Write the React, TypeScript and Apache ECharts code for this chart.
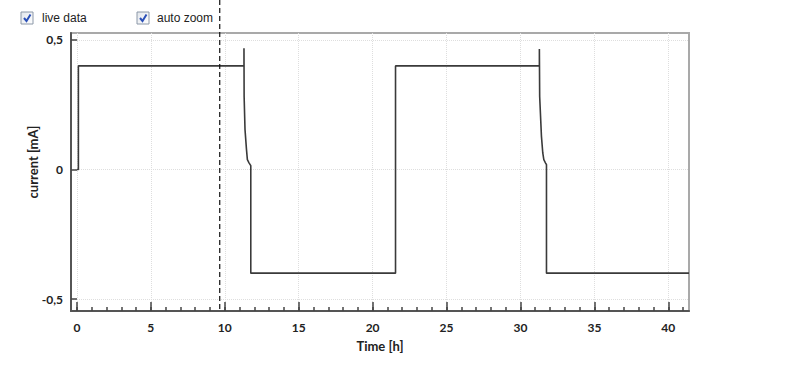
import React, { useEffect, useRef } from "react";
import * as echarts from "echarts";

// Time [h]
const timeH = [
  0, 0.1, 0.1, 11.3, 11.3, 11.31, 11.37, 11.47, 11.53, 11.64, 11.76, 11.76,
  21.55, 21.55, 31.28, 31.28, 31.3, 31.42, 31.51, 31.58, 31.69, 31.76, 31.76, 41.4,
];
// current [mA]
const currentMA = [
  0, 0, 0.4, 0.4, 0.468, 0.282, 0.154, 0.077, 0.038, 0.026, 0.015, -0.4,
  -0.4, 0.4, 0.4, 0.465, 0.282, 0.128, 0.064, 0.038, 0.026, 0.019, -0.4, -0.4,
];

const xMajorTicks = [0, 5, 10, 15, 20, 25, 30, 35, 40];
const xMinorTicks = [
  0, 1, 2, 3, 4, 5, 6, 7, 8, 9, 10, 11, 12, 13, 14, 15, 16, 17, 18, 19, 20,
  21, 22, 23, 24, 25, 26, 27, 28, 29, 30, 31, 32, 33, 34, 35, 36, 37, 38, 39, 40, 41,
];
const yTicks = [-0.5, 0, 0.5];
const cursorTime = 9.66;
const checkboxLabels = ["live data", "auto zoom"];

export default function App() {
  const ref = useRef<HTMLDivElement>(null);

  useEffect(() => {
    const chart = echarts.init(ref.current!, null, { renderer: "svg" });
    const font = "Lato";
    const data = timeH.map((t, i) => [t, currentMA[i]]);
    const xMin = -0.4;
    const xMax = 41.4;

    chart.setOption({
      animation: false,
      backgroundColor: "#ffffff",
      grid: {
        left: 71,
        right: 115,
        top: 33,
        bottom: 61,
        show: true,
        borderColor: "#a9a9a9",
        borderWidth: 2,
        backgroundColor: "transparent",
      },
      xAxis: [
        {
          type: "value",
          position: "bottom",
          min: xMin,
          max: xMax,
          name: "Time [h]",
          nameLocation: "middle",
          nameGap: 28,
          nameMoveOverlap: false,
          nameTextStyle: { fontFamily: font, fontWeight: "bold", fontSize: 13, color: "#222" },
          axisLine: { show: true, onZero: false, lineStyle: { color: "#555", width: 2 } },
          axisTick: { show: true, inside: true, length: 9, customValues: xMajorTicks, lineStyle: { color: "#444", width: 1.5 } },
          axisLabel: {
            customValues: xMajorTicks,
            fontFamily: font,
            fontWeight: "bold",
            fontSize: 12,
            color: "#222",
            margin: 10,
          },
          splitLine: { show: true, lineStyle: { color: "#dedede", type: "dotted", width: 1 } },
        },
        {
          type: "value",
          position: "bottom",
          min: xMin,
          max: xMax,
          axisLine: { show: false, onZero: false },
          axisTick: { show: true, inside: true, length: 4, customValues: xMinorTicks, lineStyle: { color: "#444", width: 1.5 } },
          axisLabel: { show: false },
          splitLine: { show: false },
        },
      ],
      yAxis: {
        type: "value",
        min: -0.546,
        max: 0.527,
        name: "current [mA]",
        nameLocation: "middle",
        nameRotate: 90,
        nameGap: 32,
        nameMoveOverlap: false,
        nameTextStyle: {
          fontFamily: font,
          fontWeight: "bold",
          fontSize: 13,
          color: "#222",
          padding: [0, 0, 0, 20],
        },
        axisLine: { show: true, onZero: false, lineStyle: { color: "#555", width: 2 } },
        axisTick: { show: true, inside: true, length: 6, customValues: yTicks, lineStyle: { color: "#444", width: 1.5 } },
        axisLabel: {
          customValues: yTicks,
          fontFamily: font,
          fontWeight: "bold",
          fontSize: 12,
          color: "#222",
          margin: 8,
          formatter: (v: number) => String(v).replace(".", ","),
        },
        splitLine: { show: true, lineStyle: { color: "#dedede", type: "dotted", width: 1 } },
      },
      series: [
        {
          type: "line",
          xAxisIndex: 0,
          data,
          showSymbol: false,
          symbol: "none",
          lineStyle: { color: "#3a3a3a", width: 1.6 },
        },
      ],
    });

    const cx = chart.convertToPixel({ xAxisIndex: 0 }, cursorTime) as number;
    const boxX = [21, 137];
    const textX = [42, 157];
    const graphics: any[] = [
      {
        type: "line",
        shape: { x1: cx, y1: 0, x2: cx, y2: 311 },
        style: { stroke: "#111", lineWidth: 1.2, lineDash: [5, 3] },
        z: 100,
      },
    ];
    checkboxLabels.forEach((label, i) => {
      const x0 = boxX[i];
      graphics.push(
        {
          type: "rect",
          shape: { x: x0, y: 12, width: 12, height: 12 },
          style: {
            fill: new echarts.graphic.LinearGradient(0, 0, 1, 1, [
              { offset: 0, color: "#e2e6ec" },
              { offset: 1, color: "#ffffff" },
            ]),
            stroke: "#8c98a8",
            lineWidth: 1,
          },
        },
        {
          type: "polyline",
          shape: { points: [[x0 + 3, 18], [x0 + 5.5, 21], [x0 + 9.5, 14.5]] },
          style: { stroke: "#2b50b8", lineWidth: 2, fill: "none" },
        },
        {
          type: "text",
          style: {
            text: label,
            x: textX[i],
            y: 18,
            fill: "#222",
            font: '12px "Liberation Sans"',
            verticalAlign: "middle",
          },
        }
      );
    });
    chart.setOption({ graphic: graphics });

    return () => chart.dispose();
  }, []);

  return (
    <div
      ref={ref}
      style={{ position: "absolute", left: 0, top: 0, width: 804, height: 372 }}
    />
  );
}
